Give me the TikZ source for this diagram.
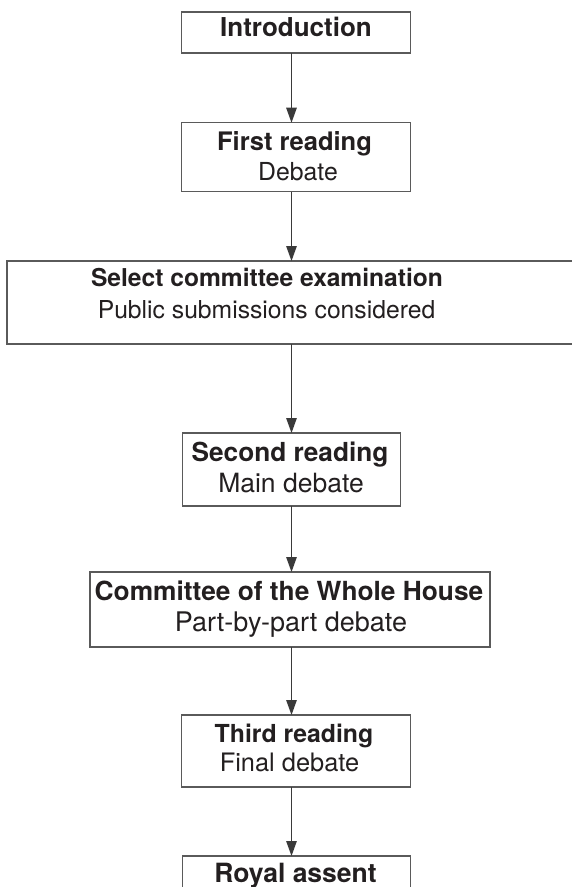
\documentclass[tikz,border=0pt]{standalone}
\usepackage{fontspec}
\setmainfont{TeX Gyre Heros}
\usetikzlibrary{arrows.meta}
\definecolor{boxline}{HTML}{5A5A5A}
\definecolor{arrowline}{HTML}{3A3A3A}
\definecolor{ink}{HTML}{231F20}
\begin{document}
\begin{tikzpicture}[x=1pt,y=-1pt,
  stagebox/.style={draw=boxline, line width=1.4pt, inner sep=0pt, outer sep=0pt},
  lbl/.style={anchor=base, inner sep=0pt, text=ink, font=\fontsize{#1}{#1}\selectfont},
  bold/.style={anchor=base, inner sep=0pt, text=ink, font=\fontsize{#1}{#1}\selectfont\bfseries},
  flow/.style={draw=arrowline, line width=1.2pt, -{Triangle[length=15pt,width=10.5pt]}}]
\useasboundingbox (0,0) rectangle (571,887);
\fill[white] (0,0) rectangle (571,887);
\coordinate (ax) at (291.5,0);

\node[stagebox, minimum width=229pt, minimum height=41pt] (intro) at (296.2,32.5) {};
\node[bold=26] (intro-a) at (296,36.7) {Introduction};

\node[stagebox, minimum width=229pt, minimum height=69pt] (first) at (296,157.2) {};
\node[bold=25.5] (first-a) at (294.5,150) {First reading};
\node[lbl=24.8] (first-b) at (298,180.7) {Debate};

\node[stagebox, minimum width=578pt, minimum height=83pt] (select) at (296,302.5) {};
\node[bold=24.6] (select-a) at (267,286) {Select committee examination};
\node[lbl=24.7] (select-b) at (266.5,318.3) {Public submissions considered};

\node[stagebox, minimum width=218pt, minimum height=73pt] (second) at (291.5,469.5) {};
\node[bold=26.2] (second-a) at (290,461.7) {Second reading};
\node[lbl=26.5] (second-b) at (291,492.7) {Main debate};

\node[stagebox, minimum width=400pt, minimum height=75pt] (whole) at (290,609.5) {};
\node[bold=26.3] (whole-a) at (289,600) {Committee of the Whole House};
\node[lbl=27] (whole-b) at (291,631.7) {Part-by-part debate};

\node[stagebox, minimum width=229pt, minimum height=72pt] (third) at (296,751) {};
\node[bold=24.8] (third-a) at (294,742.7) {Third reading};
\node[lbl=25.4] (third-b) at (289.5,771.7) {Final debate};

\node[stagebox, minimum width=228pt, minimum height=50pt] (royal) at (296.5,881) {};
\node[bold=26.5] (royal-a) at (295.5,882.5) {Royal assent};

\draw[flow] (intro.south -| ax) -- (first.north -| ax);
\draw[flow] (first.south -| ax) -- (select.north -| ax);
\draw[flow] (select.south -| ax) -- (second.north -| ax);
\draw[flow] (second.south -| ax) -- (whole.north -| ax);
\draw[flow] (whole.south -| ax) -- (third.north -| ax);
\draw[flow] (third.south -| ax) -- (royal.north -| ax);
\end{tikzpicture}
\end{document}
